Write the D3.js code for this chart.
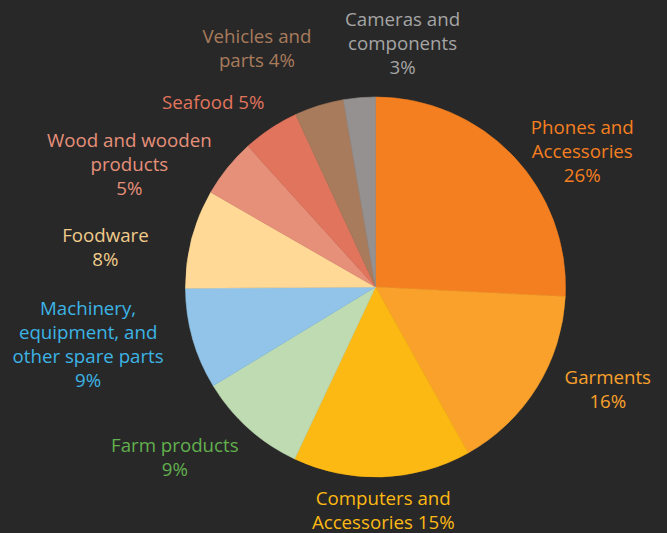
<!DOCTYPE html>
<html>
<head>
<meta charset="utf-8">
<script src="https://cdn.jsdelivr.net/npm/d3@7/dist/d3.min.js"></script>
<style>
  html, body { margin: 0; padding: 0; background: #282828; }
  svg { display: block; }
</style>
</head>
<body>
<svg id="chart" width="667" height="533"></svg>
<script>
// ---- data ----
const categories = [
  "Phones and Accessories", "Garments", "Computers and Accessories", "Farm products",
  "Machinery, equipment, and other spare parts", "Foodware", "Wood and wooden products",
  "Seafood", "Vehicles and parts", "Cameras and components"
];
const values = [25.8, 16.1, 15.1, 9.3, 8.6, 8.4, 5.0, 4.8, 4.2, 2.7];
// label line breaks ("{p}" is replaced by the rounded percentage)
const labelLines = [
  ["Phones and", "Accessories", "{p}"],
  ["Garments", "{p}"],
  ["Computers and", "Accessories {p}"],
  ["Farm products", "{p}"],
  ["Machinery,", "equipment, and", "other spare parts", "{p}"],
  ["Foodware", "{p}"],
  ["Wood and wooden", "products", "{p}"],
  ["Seafood {p}"],
  ["Vehicles and", "parts {p}"],
  ["Cameras and", "components", "{p}"]
];

// ---- styles ----
const sliceColors = ["#F47F20", "#F9A12B", "#FDB913", "#BFDBB2", "#91C4E8",
                     "#FFD995", "#E6907A", "#E0745D", "#A87B5C", "#959190"];
const labelColors = ["#F47F20", "#F9A12B", "#FDB913", "#62B04E", "#3CB4E5",
                     "#F0CB8B", "#E6907A", "#E0745D", "#A87B5C", "#A5A5A5"];
// label placement: angular shift (deg) from slice middle and distance from centre
const labelShift = [10.4, -8, 0, 7.8, 4.6, -6.4, -12.4, -7.8, -9.2, 11.2];
const labelDist  = [247, 254, 224, 263, 293, 273, 275, 246, 266, 245];

const W = 667, H = 533;
const cx = 375.5, cy = 287, R = 190;
const lineH = 24;

const svg = d3.select("#chart");
const g = svg.append("g").attr("transform", `translate(${cx},${cy})`);

const pie = d3.pie().sort(null).value(d => d);
const arcs = pie(values);
const arc = d3.arc().innerRadius(0).outerRadius(R);

g.selectAll("path.slice")
  .data(arcs)
  .enter().append("path")
  .attr("class", "slice")
  .attr("d", arc)
  .attr("fill", (d, i) => sliceColors[i])
  .attr("stroke", (d, i) => sliceColors[i])
  .attr("stroke-width", 0.6);

g.selectAll("text.lbl")
  .data(arcs)
  .enter().append("text")
  .attr("class", "lbl")
  .attr("text-anchor", "middle")
  .attr("font-family", "'Segoe UI', 'Open Sans', 'Noto Sans', sans-serif")
  .attr("font-size", 18.7)
  .attr("fill", (d, i) => labelColors[i])
  .each(function(d, i) {
    const mid = (d.startAngle + d.endAngle) / 2 + labelShift[i] * Math.PI / 180;
    const x = Math.sin(mid) * labelDist[i];
    const y = -Math.cos(mid) * labelDist[i];
    const lines = labelLines[i].map(s => s.replace("{p}", Math.round(values[i]) + "%"));
    const n = lines.length;
    const t = d3.select(this);
    lines.forEach((s, k) => {
      t.append("tspan")
        .attr("x", x)
        .attr("y", y + (k - (n - 1) / 2) * lineH)
        .attr("dy", "0.35em")
        .text(s);
    });
  });
</script>
</body>
</html>
